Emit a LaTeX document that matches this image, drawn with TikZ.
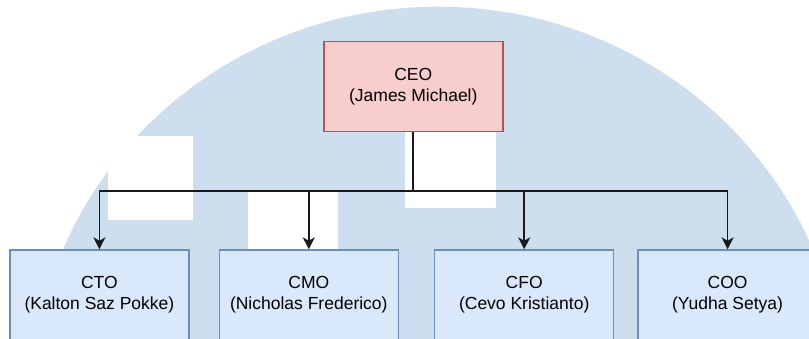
\documentclass[tikz,border=0pt]{standalone}
\usepackage{fontspec}
\setmainfont{Liberation Sans}
\usetikzlibrary{arrows.meta}
\definecolor{bgblue}{HTML}{CDDEEE}
\definecolor{boxfill}{HTML}{DAE8FC}
\definecolor{boxline}{HTML}{6C8EBF}
\definecolor{ceofill}{HTML}{F8CECC}
\definecolor{ceoline}{HTML}{B85450}
\begin{document}
\begin{tikzpicture}[x=1pt,y=-1pt,
  role/.style={draw=boxline, fill=boxfill, line width=1.4pt, minimum width=179pt,
    minimum height=90pt, align=center, inner sep=0pt,
    font=\fontsize{17.5}{21}\selectfont},
  chief/.style={role, draw=ceoline, fill=ceofill},
  link/.style={line width=1.7pt, draw=black!90},
  tip/.style={-{Stealth[length=12pt,width=12pt,inset=3.5pt]}}]
\useasboundingbox (0,0) rectangle (809,338);
\clip (0,0) rectangle (809,338);
\fill[bgblue] (438,400.7) ellipse [x radius=406, y radius=394];
\fill[white] (108,136) rectangle (193,220);
\fill[white] (248,191) rectangle (338,252);
\fill[white] (405,125) rectangle (496,208);
\node[chief] (ceo) at (413.3,86.7) {CEO\\(James Michael)};
\node[role] (cto) at (99.4,295) {CTO\\(Kalton Saz Pokke)};
\node[role] (cmo) at (308.8,295) {CMO\\(Nicholas Frederico)};
\node[role] (cfo) at (524.2,295) {CFO\\(Cevo Kristianto)};
\node[role] (coo) at (727.6,295) {COO\\(Yudha Setya)};
\coordinate (bus) at (413.3,190.7);
\draw[link] (ceo.south) -- (bus);
\draw[link,tip] (bus) -| (cto.north);
\draw[link,tip] (bus) -| (cmo.north);
\draw[link,tip] (bus) -| (cfo.north);
\draw[link,tip] (bus) -| (coo.north);
\end{tikzpicture}
\end{document}
